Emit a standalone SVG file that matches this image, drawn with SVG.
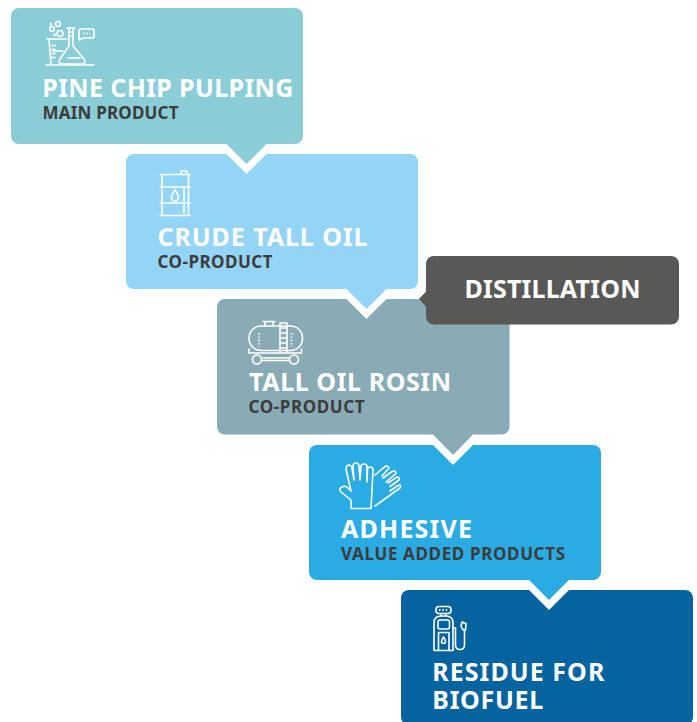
<svg xmlns="http://www.w3.org/2000/svg" width="697" height="722" viewBox="0 0 697 722">
<style>
text{font-family:"Noto Sans","Open Sans","Liberation Sans",sans-serif;font-weight:700}
.t{fill:#fff;font-size:25px}
.s{fill:#3c3c3b;font-size:17px}
.i{fill:none;stroke:#fff;stroke-width:1.6;stroke-linecap:round;stroke-linejoin:round}
.d{stroke-dasharray:1.4 2;stroke-linecap:butt;stroke-width:1.8}
.h{fill:#fff}
</style>
<rect width="697" height="722" fill="#fff"/>
<g id="pine-chip-pulping">
<rect x="11" y="8" width="292" height="136" rx="8" fill="#8acdd7"/>
<g class="i">
<path d="M46 65H94M47 39H67M49 39.500L51 64M52 45.500H55M52 49.500H55M52 53.500H55M52 57.500H55M53 51H63"/>
<path d="M67 28H75M69 28V46L60 59Q57 64 63 64H81Q87 64 84 59L73 46V28M68 58H80M71 32H73M71 36H73"/>
<circle cx="58" cy="24" r="2.500"/><circle cx="52" cy="29" r="2.300"/><circle cx="60" cy="33.500" r="3"/><circle cx="51" cy="24.500" r=".6"/><circle cx="54.500" cy="35" r=".6"/>
<path d="M80 30Q80 29 81 29H93Q94 29 94 30V37Q94 38 93 38H83L79 40V30Z"/>
<path class="d" d="M83 33.500H90"/>
</g>
<text class="t" x="42.300" y="97" textLength="251">PINE CHIP PULPING</text>
<text class="s" x="42.500" y="119" textLength="136">MAIN PRODUCT</text>
</g>
<g id="crude-tall-oil">
<rect x="126" y="154" width="292" height="135" rx="8" fill="#93d4f7"/>
<g class="i">
<path d="M160 174.500H190M160 187H190M160 203H190M160 215.500H190M162 174.500V215.500M188.500 174.500V215.500M184 188V201M184 205V213M181 174V171H187V174"/>
<path d="M175 190Q171.500 195 171.500 197.500A3.500 3.500 0 0 0 178.500 197.500Q178.500 195 175 190Z"/>
</g>
<text class="t" x="157.500" y="245.500" textLength="210">CRUDE TALL OIL</text>
<text class="s" x="157.500" y="268" textLength="115">CO-PRODUCT</text>
</g>
<g id="tall-oil-rosin">
<rect x="217" y="299" width="292.500" height="135.500" rx="8" fill="#89abb6"/>
<g class="i">
<rect x="249" y="326" width="53.500" height="24.500" rx="12"/>
<path d="M263 321.500H275M265 321.500V326M273 321.500V326M280 323H287M280 323V352M287 323V352M280 328H287M280 333H287M280 338H287M280 343H287M280 348H287"/>
<path d="M249 349V353H301.500V349M263 358H289M263 360.500H289"/>
<circle cx="257" cy="359.500" r="4.500"/><circle cx="294" cy="359.500" r="4.500"/>
<path class="d" d="M259 333V347M291.500 333V347"/>
</g>
<text class="t" x="249" y="391" textLength="202">TALL OIL ROSIN</text>
<text class="s" x="248.500" y="413" textLength="116">CO-PRODUCT</text>
</g>
<g id="adhesive">
<rect x="309" y="445" width="292" height="135" rx="8" fill="#2aabe4"/>
<g class="i">
<path d="M351 508.500V500L341 492Q338 489 342 487Q345 485 348 488L351 491L346 469Q346 465 349 465Q351 465 352 468L354 480L353 466Q353 463 356 463Q359 463 359 466L360 480L361 466Q361 464 364 464Q367 464 367 467V482L367.500 469Q368 467 370 467Q373 467 373 470L371 508.500Z"/>
<path d="M375 475L385 466.500Q388 465 389 468L382 476M383 478L392 471.500Q396 470 396 473.500L386 482M388 483L397 477Q400 477 399 480L390 486.500M390 491L398 485.500Q402 484 400 488L375 506"/>
</g>
<text class="t" x="341" y="537.500" textLength="131">ADHESIVE</text>
<text class="s" x="341" y="560" textLength="224">VALUE ADDED PRODUCTS</text>
</g>
<g id="residue-for-biofuel">
<rect x="401" y="590" width="292" height="135" rx="8" fill="#05639f"/>
<g class="i">
<rect x="436" y="606.500" width="15" height="7" rx="3"/>
<path class="d" d="M439 610H448"/>
<path d="M441 613.500V616M446 613.500V616M434 650.500V623Q434 616 441 616H446Q453 616 453 623V650.500Z"/>
<rect x="438" y="620" width="11.500" height="9" rx="2"/>
<path d="M438.500 650.500V632.500H449V650.500"/>
<path d="M443.500 637Q441.500 640 441.500 641.500A2 2 0 0 0 445.500 641.500Q445.500 640 443.500 637Z"/>
<path d="M453 628H455.500V645Q455.500 649.500 460 649.500Q464.500 649.500 464.500 645V630M462 622L466 623.500L465.500 630H463L461 626Z"/>
</g>
<text class="t" x="432.300" y="681" textLength="172">RESIDUE FOR</text>
<text class="t" x="432.300" y="709" textLength="111">BIOFUEL</text>
</g>
<g id="distillation">
<rect x="426" y="256" width="253" height="68.500" rx="8" fill="#585856"/>
<text class="t" x="464.500" y="298" textLength="176">DISTILLATION</text>
</g>
<g id="connectors">
<polygon class="h" points="226.500,154 246.500,174 266.500,154"/>
<polygon fill="#8acdd7" points="226,143.500 267,143.500 246.500,164"/>
<polygon class="h" points="346.500,299 366.500,319 386.500,299"/>
<polygon fill="#93d4f7" points="346,288.500 387,288.500 366.500,309"/>
<polygon class="h" points="433,445 453,465 473,445"/>
<polygon fill="#89abb6" points="432.500,434 473.500,434 453,455"/>
<polygon class="h" points="529,590 549,610 569,590"/>
<polygon fill="#2aabe4" points="528.500,579.500 569.500,579.500 549,600"/>
<polygon fill="#585856" points="426.500,291 426.500,307 419,299"/>
</g>
</svg>
